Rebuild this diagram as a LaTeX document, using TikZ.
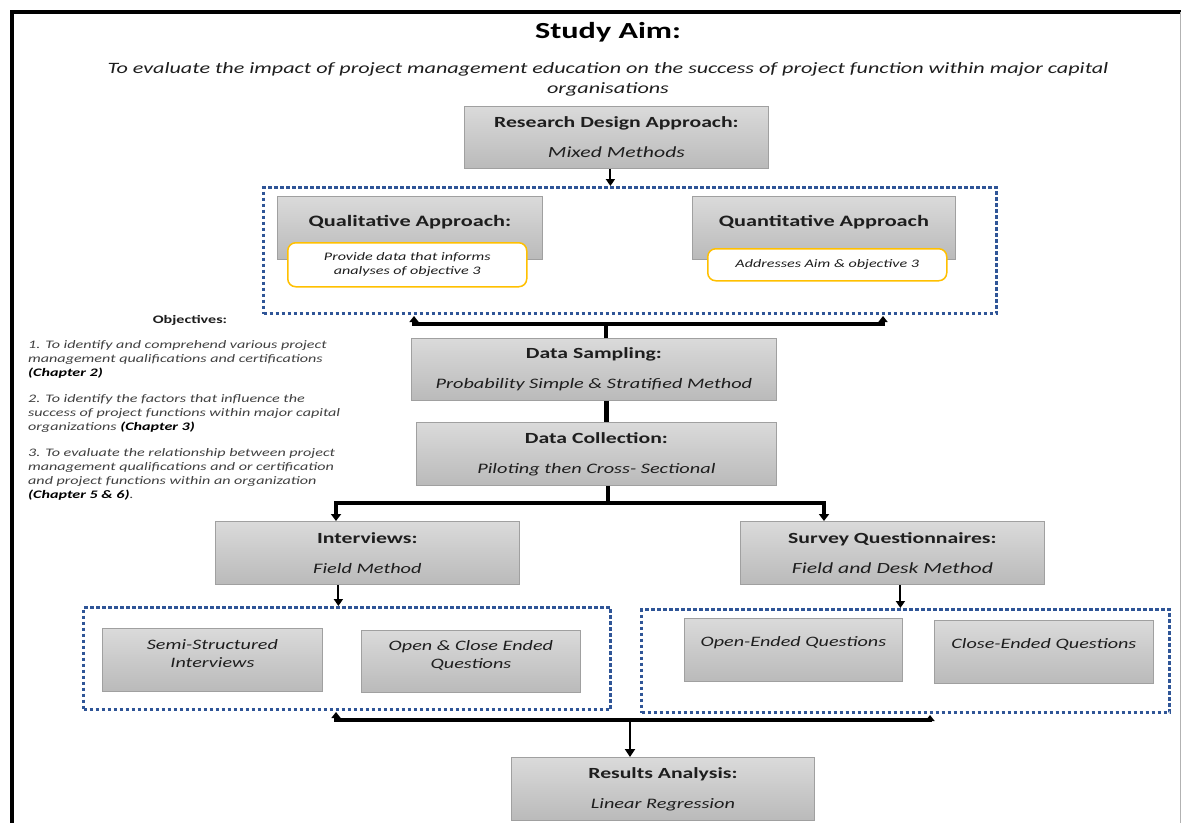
\documentclass[tikz,border=0pt]{standalone}
\usepackage{fontspec}
\setmainfont{Carlito}[FakeStretch=1.4]
\usetikzlibrary{arrows.meta,calc}

\definecolor{boxtop}{RGB}{218,218,218}
\definecolor{boxbot}{RGB}{186,186,186}
\definecolor{boxline}{RGB}{160,160,160}
\definecolor{dotblue}{RGB}{47,85,151}
\definecolor{amber}{RGB}{255,192,0}
\definecolor{txt}{RGB}{30,30,30}
\definecolor{objtxt}{RGB}{64,64,64}

\newcommand{\subline}[2][14.5]{{\itshape\fontsize{#1}{30}\selectfont #2}}

\tikzset{
  graybox/.style={draw=boxline, line width=0.8pt, top color=boxtop, bottom color=boxbot,
    anchor=north west, inner sep=0pt, align=center, text=txt,
    font=\fontsize{15.5}{30}\selectfont},
  notebox/.style={draw=amber, line width=1.5pt, fill=white, rounded corners=8pt,
    anchor=north west, inner sep=0pt, align=center, text=txt,
    font=\itshape\fontsize{11.5}{14}\selectfont},
  dotbox/.style={draw=dotblue, line width=3pt, dash pattern=on 3.5pt off 2.5pt,
    anchor=north west, inner sep=0pt},
  boxlabel/.style={font=\bfseries\fontsize{15.9}{18}\selectfont, text=txt, inner sep=0pt},
  innerlabel/.style={font=\itshape\fontsize{14.4}{18}\selectfont, text=txt, inner sep=0pt, align=center},
  thinarrow/.style={line width=2pt, -{Triangle[length=7pt,width=9pt]}},
  bar/.style={line width=4pt},
  uparrow/.style={line width=3pt, -{Triangle[length=6pt,width=9pt]}},
}

\begin{document}
\begin{tikzpicture}[x=1pt,y=-1pt]
\useasboundingbox (0,0) rectangle (1182,823);
\fill[white] (0,0) rectangle (1182,823);

% page frame
\draw[line width=4pt] (10,12) -- (1181,12);
\draw[line width=4pt] (12,10) -- (12,823);
\draw[line width=0.6pt, black!30] (1180,12) -- (1180,823);

% heading
\node[font=\bfseries\fontsize{23}{28}\selectfont] (title) at (608,32) {Study Aim:};
\node[font=\itshape\fontsize{15.8}{20}\selectfont, text=txt, align=center] (aim) at (608,79)
  {To evaluate the impact of project management education on the success of project function within major capital\\organisations};

% research design
\node[graybox, minimum width=304, minimum height=62] (rd) at (464,106)
  {\textbf{Research Design Approach:}\\\subline[15.5]{Mixed Methods}};

% approaches
\node[dotbox, minimum width=733, minimum height=126] (box1) at (262,186) {};
\node[graybox, minimum width=265, minimum height=63] (qual) at (277,196) {};
\node[boxlabel] (qualt) at ($(qual.north)+(0,26)$) {Qualitative Approach:};
\node[notebox, minimum width=239, minimum height=44] (qualn) at (287,242)
  {Provide data that informs\\analyses of objective 3};
\node[graybox, minimum width=263, minimum height=63] (quant) at (692,196) {};
\node[boxlabel] (quantt) at ($(quant.north)+(0,26)$) {Quantitative Approach};
\node[notebox, minimum width=239, minimum height=32] (quantn) at (707,248)
  {Addresses Aim \& objective 3};

% objectives
\node[font=\bfseries\fontsize{11.5}{14}\selectfont, text=txt] (objh) at (190,320) {Objectives:};
\node[anchor=north west, align=left, inner sep=0pt, text=objtxt,
      font=\itshape\fontsize{11.5}{14}\selectfont] (obj) at (28,340)
  {1. To identify and comprehend various project\\
   management qualifications and certifications\\
   \textcolor{black}{\textbf{(Chapter 2)}}\\[12pt]
   2. To identify the factors that influence the\\
   success of project functions within major capital\\
   organizations \textcolor{black}{\textbf{(Chapter 3)}}\\[12pt]
   3. To evaluate the relationship between project\\
   management qualifications and or certification\\
   and project functions within an organization\\
   \textcolor{black}{\textbf{(Chapter 5 \& 6)}}.};

% sampling and collection
\node[graybox, minimum width=365, minimum height=62] (ds) at (411,338)
  {\textbf{Data Sampling:}\\\subline{Probability Simple \& Stratified Method}};
\node[graybox, minimum width=360, minimum height=63] (dc) at (416,422)
  {\textbf{Data Collection:}\\\subline{Piloting then Cross- Sectional}};

% methods
\node[graybox, minimum width=304, minimum height=63] (int) at (215,521)
  {\textbf{Interviews:}\\\subline{Field Method}};
\node[graybox, minimum width=304, minimum height=63] (sq) at (740,521)
  {\textbf{Survey Questionnaires:}\\\subline[15.5]{Field and Desk Method}};

% interview instruments
\node[dotbox, minimum width=527, minimum height=102] (box2) at (82,606) {};
\node[graybox, minimum width=220, minimum height=63] (ssi) at (102,628) {};
\node[innerlabel] (ssit) at ($(ssi.center)+(0,-6)$) {Semi-Structured\\Interviews};
\node[graybox, minimum width=219, minimum height=62] (oce) at (361,630) {};
\node[innerlabel] (ocet) at ($(oce.center)+(0,-6)$) {Open \& Close Ended\\Questions};

% survey instruments
\node[dotbox, minimum width=528, minimum height=103] (box3) at (640,608) {};
\node[graybox, minimum width=218, minimum height=63] (oeq) at (684,618) {};
\node[innerlabel] (oeqt) at ($(oeq.center)+(0,-7)$) {Open-Ended Questions};
\node[graybox, minimum width=219, minimum height=63] (ceq) at (934,620) {};
\node[innerlabel] (ceqt) at ($(ceq.center)+(0,-7)$) {Close-Ended Questions};

% results
\node[graybox, minimum width=303, minimum height=63] (res) at (511,757)
  {\textbf{Results Analysis:}\\\subline{Linear Regression}};

% connectors
\coordinate (a0) at ($(rd.south)+(-6,0)$);
\draw[thinarrow] (a0) -- (a0 |- box1.north);

% fork from the approaches into data sampling
\coordinate (j1) at (606,324);
\coordinate (j1L) at (414,324);
\coordinate (j1R) at (883,324);
\draw[bar] (j1 |- ds.north) -- (j1);
\draw[bar, line cap=rect] (j1L) -- (j1R);
\draw[uparrow] (j1L) -- ($(j1L |- box1.south)+(0,1)$);
\draw[uparrow] (j1R) -- ($(j1R |- box1.south)+(0,1)$);

\draw[line width=5pt] (j1 |- ds.south) -- (j1 |- dc.north);

% split into the two collection methods
\coordinate (j3) at (608,503);
\coordinate (j3L) at (336,503);
\coordinate (j3R) at (824,503);
\draw[bar] (j3 |- dc.south) -- (j3);
\draw[line width=4pt, -{Triangle[length=7pt,width=10pt]}] (j3) -- (j3L) -- (j3L |- int.north);
\draw[line width=4pt, -{Triangle[length=7pt,width=10pt]}] (j3) -- (j3R) -- (j3R |- sq.north);

\coordinate (a4) at ($(int.south)+(-29,0)$);
\draw[thinarrow] (a4) -- (a4 |- box2.north);
\coordinate (a5) at ($(sq.south)+(8,0)$);
\draw[thinarrow] (a5) -- (a5 |- box3.north);

% merge into results analysis
\coordinate (j6) at (630,720);
\coordinate (j6L) at (336,720);
\coordinate (j6R) at (930,720);
\draw[line width=4.5pt, line cap=rect] (j6L) -- (j6R);
\draw[uparrow] (j6L) -- ($(j6L |- box2.south)+(0,1)$);
\draw[uparrow] (j6R) -- ($(j6R |- box3.south)+(0,1)$);
\draw[line width=2.5pt, -{Triangle[length=8pt,width=10pt]}] (j6) -- (j6 |- res.north);
\end{tikzpicture}
\end{document}
